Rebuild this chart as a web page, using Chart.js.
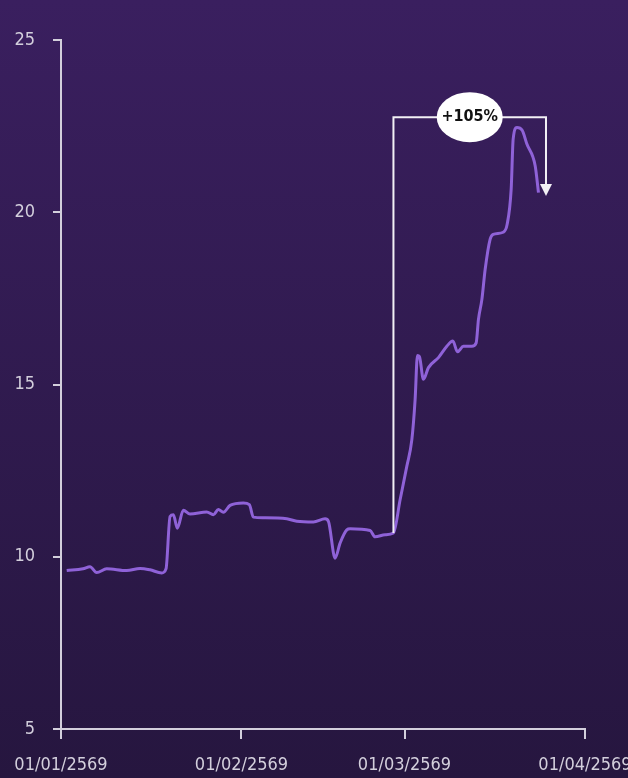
<!DOCTYPE html>
<html><head><meta charset="utf-8">
<script src="https://cdn.jsdelivr.net/npm/chart.js@4.4.1/dist/chart.umd.min.js"></script>
<style>html,body{margin:0;padding:0;background:#2f1a4f;overflow:hidden}#wrap{width:628px;height:778px}</style>
</head><body><div id="wrap"><canvas id="c" width="628" height="778"></canvas></div>
<script>
// Day offsets from 01/01/2569 and price values
const dayOffsets = [0.98,3.78,4.98,6.13,7.85,11.29,13.57,15.29,17.30,18.04,18.73,19.30,19.98,21.01,22.16,25.03,26.17,27.03,27.89,29.04,31.32,32.35,33.04,34.76,38.78,40.50,43.35,45.36,45.93,47.08,47.94,49.09,49.66,53.09,53.95,55.67,57.10,58.25,59.40,60.26,60.82,61.22,61.56,62.25,63.11,64.83,66.27,67.30,68.09,69.12,70.57,71.31,71.70,72.29,72.85,73.71,74.23,75.95,76.63,77.32,77.66,78.30,79.21,80.02,81.44,82.01];
const prices = [9.60,9.65,9.71,9.54,9.65,9.60,9.66,9.62,9.53,9.65,11.17,11.22,10.83,11.35,11.24,11.30,11.22,11.37,11.29,11.49,11.56,11.51,11.15,11.13,11.10,11.03,11.01,11.10,11.03,9.96,10.40,10.78,10.81,10.76,10.58,10.64,10.69,11.66,12.63,13.40,14.56,15.84,15.81,15.15,15.49,15.78,16.11,16.26,15.95,16.11,16.11,16.21,16.89,17.47,18.34,19.22,19.36,19.42,19.65,20.67,22.12,22.46,22.38,21.98,21.35,20.57];
const tickDays = [0,31,59,90];
const tickLabels = ['01/01/2569','01/02/2569','01/03/2569','01/04/2569'];
const yTickValues = [5,10,15,20,25];
// Change annotation anchors (day, value)
const changeStart = [57.1, 10.69];
const changeTopValue = 22.76;
const changeEnd = [83.3, 20.47];
const changeLabel = '+105%';

const FONT = "'Liberation Sans Narrow','DejaVu Sans Condensed','Open Sans',sans-serif";
const AXIS_COLOR = '#d3cfdc';

const bgPlugin = {
  id: 'bg',
  beforeDraw(chart) {
    const ctx = chart.ctx;
    const g = ctx.createLinearGradient(0, 0, 0, chart.height);
    g.addColorStop(0, '#3a1f5f');
    g.addColorStop(1, '#26163f');
    ctx.save();
    ctx.fillStyle = g;
    ctx.fillRect(0, 0, chart.width, chart.height);
    ctx.restore();
  }
};

const annotPlugin = {
  id: 'annot',
  afterDatasetsDraw(chart) {
    const x = chart.scales.x, y = chart.scales.y, ctx = chart.ctx;
    const x1 = x.getPixelForValue(changeStart[0]);
    const y1 = y.getPixelForValue(changeStart[1]);
    const yTop = y.getPixelForValue(changeTopValue);
    const x2 = x.getPixelForValue(changeEnd[0]);
    const y2 = y.getPixelForValue(changeEnd[1]);
    ctx.save();
    ctx.strokeStyle = '#f2f0f5';
    ctx.fillStyle = '#f2f0f5';
    ctx.lineWidth = 2;
    ctx.beginPath();
    ctx.moveTo(x1, y1);
    ctx.lineTo(x1, yTop);
    ctx.lineTo(x2, yTop);
    ctx.lineTo(x2, y2 - 11);
    ctx.stroke();
    ctx.beginPath();
    ctx.moveTo(x2 - 6, y2 - 12);
    ctx.lineTo(x2 + 6, y2 - 12);
    ctx.lineTo(x2, y2);
    ctx.closePath();
    ctx.fill();
    const cx = (x1 + x2) / 2;
    ctx.fillStyle = '#ffffff';
    ctx.beginPath();
    ctx.ellipse(cx, yTop, 33, 25, 0, 0, Math.PI * 2);
    ctx.fill();
    ctx.fillStyle = '#111111';
    ctx.font = "bold 16px 'DejaVu Sans Condensed', 'Open Sans', sans-serif";
    ctx.textAlign = 'center';
    ctx.textBaseline = 'middle';
    ctx.fillText(changeLabel, cx, yTop);
    ctx.restore();
  }
};

new Chart(document.getElementById('c'), {
  type: 'line',
  data: {
    datasets: [{
      data: dayOffsets.map((d, i) => ({x: d, y: prices[i]})),
      borderColor: '#8f62d8',
      borderWidth: 3,
      pointRadius: 0,
      cubicInterpolationMode: 'monotone',
      fill: false
    }]
  },
  options: {
    responsive: false,
    animation: false,
    devicePixelRatio: 1,
    layout: {padding: {left: 0, top: 40, right: 43, bottom: 0}},
    plugins: {legend: {display: false}, tooltip: {enabled: false}},
    scales: {
      x: {
        type: 'linear', min: 0, max: 90,
        afterBuildTicks(s) { s.ticks = tickDays.map(v => ({value: v})); },
        afterFit(s) { s.height = 49; s.paddingLeft = 0; s.paddingRight = 0; },
        ticks: {
          autoSkip: false, maxRotation: 0,
          callback: (v) => tickLabels[tickDays.indexOf(v)],
          color: AXIS_COLOR, padding: 16,
          font: {family: FONT, size: 18}
        },
        grid: {drawOnChartArea: false, drawTicks: true, tickLength: 10, color: AXIS_COLOR, lineWidth: 2},
        border: {display: true, color: AXIS_COLOR, width: 2}
      },
      y: {
        type: 'linear', min: 5, max: 25,
        afterBuildTicks(s) { s.ticks = yTickValues.map(v => ({value: v})); },
        afterFit(s) { s.width = 61; s.paddingTop = 0; s.paddingBottom = 0; },
        ticks: {
          color: AXIS_COLOR, padding: 18,
          font: {family: FONT, size: 18}
        },
        grid: {drawOnChartArea: false, drawTicks: true, tickLength: 8, color: AXIS_COLOR, lineWidth: 2},
        border: {display: true, color: AXIS_COLOR, width: 2}
      }
    }
  },
  plugins: [bgPlugin, annotPlugin]
});
</script></body></html>
